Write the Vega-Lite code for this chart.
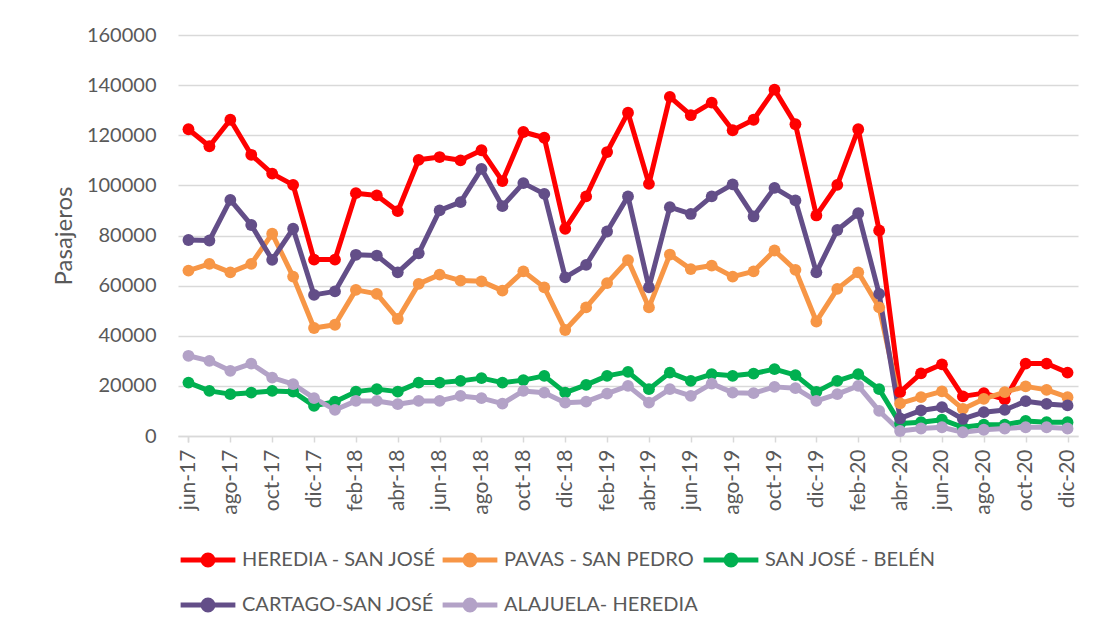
{
  "$schema": "https://vega.github.io/schema/vega-lite/v6.json",
  "width": 900,
  "height": 401,
  "autosize": {"type": "none"},
  "padding": {"left": 178, "top": 35, "right": 16, "bottom": 195},
  "background": "white",
  "config": {
    "view": {"stroke": null},
    "font": "Lato",
    "axis": {"labelFont": "Lato", "titleFont": "Lato", "labelColor": "#595959", "titleColor": "#595959"},
    "legend": {"labelFont": "Lato"}
  },
  "data": {"values": [
    {"mes":"jun-17","ruta":"HEREDIA - SAN JOSÉ","pasajeros":122400},
    {"mes":"jul-17","ruta":"HEREDIA - SAN JOSÉ","pasajeros":115600},
    {"mes":"ago-17","ruta":"HEREDIA - SAN JOSÉ","pasajeros":126200},
    {"mes":"sep-17","ruta":"HEREDIA - SAN JOSÉ","pasajeros":112200},
    {"mes":"oct-17","ruta":"HEREDIA - SAN JOSÉ","pasajeros":104700},
    {"mes":"nov-17","ruta":"HEREDIA - SAN JOSÉ","pasajeros":100200},
    {"mes":"dic-17","ruta":"HEREDIA - SAN JOSÉ","pasajeros":70400},
    {"mes":"ene-18","ruta":"HEREDIA - SAN JOSÉ","pasajeros":70400},
    {"mes":"feb-18","ruta":"HEREDIA - SAN JOSÉ","pasajeros":96900},
    {"mes":"mar-18","ruta":"HEREDIA - SAN JOSÉ","pasajeros":96000},
    {"mes":"abr-18","ruta":"HEREDIA - SAN JOSÉ","pasajeros":89700},
    {"mes":"may-18","ruta":"HEREDIA - SAN JOSÉ","pasajeros":110200},
    {"mes":"jun-18","ruta":"HEREDIA - SAN JOSÉ","pasajeros":111300},
    {"mes":"jul-18","ruta":"HEREDIA - SAN JOSÉ","pasajeros":110000},
    {"mes":"ago-18","ruta":"HEREDIA - SAN JOSÉ","pasajeros":114000},
    {"mes":"sep-18","ruta":"HEREDIA - SAN JOSÉ","pasajeros":101700},
    {"mes":"oct-18","ruta":"HEREDIA - SAN JOSÉ","pasajeros":121300},
    {"mes":"nov-18","ruta":"HEREDIA - SAN JOSÉ","pasajeros":119000},
    {"mes":"dic-18","ruta":"HEREDIA - SAN JOSÉ","pasajeros":82700},
    {"mes":"ene-19","ruta":"HEREDIA - SAN JOSÉ","pasajeros":95600},
    {"mes":"feb-19","ruta":"HEREDIA - SAN JOSÉ","pasajeros":113300},
    {"mes":"mar-19","ruta":"HEREDIA - SAN JOSÉ","pasajeros":129000},
    {"mes":"abr-19","ruta":"HEREDIA - SAN JOSÉ","pasajeros":100600},
    {"mes":"may-19","ruta":"HEREDIA - SAN JOSÉ","pasajeros":135300},
    {"mes":"jun-19","ruta":"HEREDIA - SAN JOSÉ","pasajeros":128000},
    {"mes":"jul-19","ruta":"HEREDIA - SAN JOSÉ","pasajeros":133000},
    {"mes":"ago-19","ruta":"HEREDIA - SAN JOSÉ","pasajeros":122000},
    {"mes":"sep-19","ruta":"HEREDIA - SAN JOSÉ","pasajeros":126200},
    {"mes":"oct-19","ruta":"HEREDIA - SAN JOSÉ","pasajeros":138200},
    {"mes":"nov-19","ruta":"HEREDIA - SAN JOSÉ","pasajeros":124400},
    {"mes":"dic-19","ruta":"HEREDIA - SAN JOSÉ","pasajeros":88000},
    {"mes":"ene-20","ruta":"HEREDIA - SAN JOSÉ","pasajeros":100200},
    {"mes":"feb-20","ruta":"HEREDIA - SAN JOSÉ","pasajeros":122400},
    {"mes":"mar-20","ruta":"HEREDIA - SAN JOSÉ","pasajeros":82000},
    {"mes":"abr-20","ruta":"HEREDIA - SAN JOSÉ","pasajeros":17500},
    {"mes":"may-20","ruta":"HEREDIA - SAN JOSÉ","pasajeros":25000},
    {"mes":"jun-20","ruta":"HEREDIA - SAN JOSÉ","pasajeros":28600},
    {"mes":"jul-20","ruta":"HEREDIA - SAN JOSÉ","pasajeros":15800},
    {"mes":"ago-20","ruta":"HEREDIA - SAN JOSÉ","pasajeros":17100},
    {"mes":"sep-20","ruta":"HEREDIA - SAN JOSÉ","pasajeros":14600},
    {"mes":"oct-20","ruta":"HEREDIA - SAN JOSÉ","pasajeros":28900},
    {"mes":"nov-20","ruta":"HEREDIA - SAN JOSÉ","pasajeros":28900},
    {"mes":"dic-20","ruta":"HEREDIA - SAN JOSÉ","pasajeros":25300},
    {"mes":"jun-17","ruta":"PAVAS - SAN PEDRO","pasajeros":66000},
    {"mes":"jul-17","ruta":"PAVAS - SAN PEDRO","pasajeros":68700},
    {"mes":"ago-17","ruta":"PAVAS - SAN PEDRO","pasajeros":65300},
    {"mes":"sep-17","ruta":"PAVAS - SAN PEDRO","pasajeros":68700},
    {"mes":"oct-17","ruta":"PAVAS - SAN PEDRO","pasajeros":80700},
    {"mes":"nov-17","ruta":"PAVAS - SAN PEDRO","pasajeros":63600},
    {"mes":"dic-17","ruta":"PAVAS - SAN PEDRO","pasajeros":43100},
    {"mes":"ene-18","ruta":"PAVAS - SAN PEDRO","pasajeros":44400},
    {"mes":"feb-18","ruta":"PAVAS - SAN PEDRO","pasajeros":58300},
    {"mes":"mar-18","ruta":"PAVAS - SAN PEDRO","pasajeros":56700},
    {"mes":"abr-18","ruta":"PAVAS - SAN PEDRO","pasajeros":46700},
    {"mes":"may-18","ruta":"PAVAS - SAN PEDRO","pasajeros":60700},
    {"mes":"jun-18","ruta":"PAVAS - SAN PEDRO","pasajeros":64400},
    {"mes":"jul-18","ruta":"PAVAS - SAN PEDRO","pasajeros":62000},
    {"mes":"ago-18","ruta":"PAVAS - SAN PEDRO","pasajeros":61700},
    {"mes":"sep-18","ruta":"PAVAS - SAN PEDRO","pasajeros":58000},
    {"mes":"oct-18","ruta":"PAVAS - SAN PEDRO","pasajeros":65700},
    {"mes":"nov-18","ruta":"PAVAS - SAN PEDRO","pasajeros":59300},
    {"mes":"dic-18","ruta":"PAVAS - SAN PEDRO","pasajeros":42300},
    {"mes":"ene-19","ruta":"PAVAS - SAN PEDRO","pasajeros":51300},
    {"mes":"feb-19","ruta":"PAVAS - SAN PEDRO","pasajeros":61000},
    {"mes":"mar-19","ruta":"PAVAS - SAN PEDRO","pasajeros":70200},
    {"mes":"abr-19","ruta":"PAVAS - SAN PEDRO","pasajeros":51300},
    {"mes":"may-19","ruta":"PAVAS - SAN PEDRO","pasajeros":72400},
    {"mes":"jun-19","ruta":"PAVAS - SAN PEDRO","pasajeros":66600},
    {"mes":"jul-19","ruta":"PAVAS - SAN PEDRO","pasajeros":68000},
    {"mes":"ago-19","ruta":"PAVAS - SAN PEDRO","pasajeros":63600},
    {"mes":"sep-19","ruta":"PAVAS - SAN PEDRO","pasajeros":65700},
    {"mes":"oct-19","ruta":"PAVAS - SAN PEDRO","pasajeros":74000},
    {"mes":"nov-19","ruta":"PAVAS - SAN PEDRO","pasajeros":66300},
    {"mes":"dic-19","ruta":"PAVAS - SAN PEDRO","pasajeros":45700},
    {"mes":"ene-20","ruta":"PAVAS - SAN PEDRO","pasajeros":58700},
    {"mes":"feb-20","ruta":"PAVAS - SAN PEDRO","pasajeros":65300},
    {"mes":"mar-20","ruta":"PAVAS - SAN PEDRO","pasajeros":51300},
    {"mes":"abr-20","ruta":"PAVAS - SAN PEDRO","pasajeros":13000},
    {"mes":"may-20","ruta":"PAVAS - SAN PEDRO","pasajeros":15500},
    {"mes":"jun-20","ruta":"PAVAS - SAN PEDRO","pasajeros":17800},
    {"mes":"jul-20","ruta":"PAVAS - SAN PEDRO","pasajeros":10800},
    {"mes":"ago-20","ruta":"PAVAS - SAN PEDRO","pasajeros":14800},
    {"mes":"sep-20","ruta":"PAVAS - SAN PEDRO","pasajeros":17500},
    {"mes":"oct-20","ruta":"PAVAS - SAN PEDRO","pasajeros":19800},
    {"mes":"nov-20","ruta":"PAVAS - SAN PEDRO","pasajeros":18400},
    {"mes":"dic-20","ruta":"PAVAS - SAN PEDRO","pasajeros":15500},
    {"mes":"jun-17","ruta":"SAN JOSÉ - BELÉN","pasajeros":21300},
    {"mes":"jul-17","ruta":"SAN JOSÉ - BELÉN","pasajeros":18000},
    {"mes":"ago-17","ruta":"SAN JOSÉ - BELÉN","pasajeros":16700},
    {"mes":"sep-17","ruta":"SAN JOSÉ - BELÉN","pasajeros":17300},
    {"mes":"oct-17","ruta":"SAN JOSÉ - BELÉN","pasajeros":18000},
    {"mes":"nov-17","ruta":"SAN JOSÉ - BELÉN","pasajeros":17700},
    {"mes":"dic-17","ruta":"SAN JOSÉ - BELÉN","pasajeros":12000},
    {"mes":"ene-18","ruta":"SAN JOSÉ - BELÉN","pasajeros":13700},
    {"mes":"feb-18","ruta":"SAN JOSÉ - BELÉN","pasajeros":17700},
    {"mes":"mar-18","ruta":"SAN JOSÉ - BELÉN","pasajeros":18700},
    {"mes":"abr-18","ruta":"SAN JOSÉ - BELÉN","pasajeros":17700},
    {"mes":"may-18","ruta":"SAN JOSÉ - BELÉN","pasajeros":21300},
    {"mes":"jun-18","ruta":"SAN JOSÉ - BELÉN","pasajeros":21300},
    {"mes":"jul-18","ruta":"SAN JOSÉ - BELÉN","pasajeros":22000},
    {"mes":"ago-18","ruta":"SAN JOSÉ - BELÉN","pasajeros":23100},
    {"mes":"sep-18","ruta":"SAN JOSÉ - BELÉN","pasajeros":21300},
    {"mes":"oct-18","ruta":"SAN JOSÉ - BELÉN","pasajeros":22300},
    {"mes":"nov-18","ruta":"SAN JOSÉ - BELÉN","pasajeros":24000},
    {"mes":"dic-18","ruta":"SAN JOSÉ - BELÉN","pasajeros":17300},
    {"mes":"ene-19","ruta":"SAN JOSÉ - BELÉN","pasajeros":20400},
    {"mes":"feb-19","ruta":"SAN JOSÉ - BELÉN","pasajeros":24000},
    {"mes":"mar-19","ruta":"SAN JOSÉ - BELÉN","pasajeros":25600},
    {"mes":"abr-19","ruta":"SAN JOSÉ - BELÉN","pasajeros":18700},
    {"mes":"may-19","ruta":"SAN JOSÉ - BELÉN","pasajeros":25300},
    {"mes":"jun-19","ruta":"SAN JOSÉ - BELÉN","pasajeros":22000},
    {"mes":"jul-19","ruta":"SAN JOSÉ - BELÉN","pasajeros":24700},
    {"mes":"ago-19","ruta":"SAN JOSÉ - BELÉN","pasajeros":24000},
    {"mes":"sep-19","ruta":"SAN JOSÉ - BELÉN","pasajeros":24900},
    {"mes":"oct-19","ruta":"SAN JOSÉ - BELÉN","pasajeros":26700},
    {"mes":"nov-19","ruta":"SAN JOSÉ - BELÉN","pasajeros":24300},
    {"mes":"dic-19","ruta":"SAN JOSÉ - BELÉN","pasajeros":17600},
    {"mes":"ene-20","ruta":"SAN JOSÉ - BELÉN","pasajeros":22000},
    {"mes":"feb-20","ruta":"SAN JOSÉ - BELÉN","pasajeros":24700},
    {"mes":"mar-20","ruta":"SAN JOSÉ - BELÉN","pasajeros":18700},
    {"mes":"abr-20","ruta":"SAN JOSÉ - BELÉN","pasajeros":5000},
    {"mes":"may-20","ruta":"SAN JOSÉ - BELÉN","pasajeros":5500},
    {"mes":"jun-20","ruta":"SAN JOSÉ - BELÉN","pasajeros":6500},
    {"mes":"jul-20","ruta":"SAN JOSÉ - BELÉN","pasajeros":3500},
    {"mes":"ago-20","ruta":"SAN JOSÉ - BELÉN","pasajeros":4500},
    {"mes":"sep-20","ruta":"SAN JOSÉ - BELÉN","pasajeros":4500},
    {"mes":"oct-20","ruta":"SAN JOSÉ - BELÉN","pasajeros":6000},
    {"mes":"nov-20","ruta":"SAN JOSÉ - BELÉN","pasajeros":5500},
    {"mes":"dic-20","ruta":"SAN JOSÉ - BELÉN","pasajeros":5500},
    {"mes":"jun-17","ruta":"CARTAGO-SAN JOSÉ","pasajeros":78200},
    {"mes":"jul-17","ruta":"CARTAGO-SAN JOSÉ","pasajeros":78000},
    {"mes":"ago-17","ruta":"CARTAGO-SAN JOSÉ","pasajeros":94200},
    {"mes":"sep-17","ruta":"CARTAGO-SAN JOSÉ","pasajeros":84200},
    {"mes":"oct-17","ruta":"CARTAGO-SAN JOSÉ","pasajeros":70300},
    {"mes":"nov-17","ruta":"CARTAGO-SAN JOSÉ","pasajeros":82700},
    {"mes":"dic-17","ruta":"CARTAGO-SAN JOSÉ","pasajeros":56300},
    {"mes":"ene-18","ruta":"CARTAGO-SAN JOSÉ","pasajeros":57700},
    {"mes":"feb-18","ruta":"CARTAGO-SAN JOSÉ","pasajeros":72300},
    {"mes":"mar-18","ruta":"CARTAGO-SAN JOSÉ","pasajeros":72000},
    {"mes":"abr-18","ruta":"CARTAGO-SAN JOSÉ","pasajeros":65300},
    {"mes":"may-18","ruta":"CARTAGO-SAN JOSÉ","pasajeros":72900},
    {"mes":"jun-18","ruta":"CARTAGO-SAN JOSÉ","pasajeros":90000},
    {"mes":"jul-18","ruta":"CARTAGO-SAN JOSÉ","pasajeros":93300},
    {"mes":"ago-18","ruta":"CARTAGO-SAN JOSÉ","pasajeros":106600},
    {"mes":"sep-18","ruta":"CARTAGO-SAN JOSÉ","pasajeros":91700},
    {"mes":"oct-18","ruta":"CARTAGO-SAN JOSÉ","pasajeros":100900},
    {"mes":"nov-18","ruta":"CARTAGO-SAN JOSÉ","pasajeros":96600},
    {"mes":"dic-18","ruta":"CARTAGO-SAN JOSÉ","pasajeros":63300},
    {"mes":"ene-19","ruta":"CARTAGO-SAN JOSÉ","pasajeros":68300},
    {"mes":"feb-19","ruta":"CARTAGO-SAN JOSÉ","pasajeros":81600},
    {"mes":"mar-19","ruta":"CARTAGO-SAN JOSÉ","pasajeros":95600},
    {"mes":"abr-19","ruta":"CARTAGO-SAN JOSÉ","pasajeros":59300},
    {"mes":"may-19","ruta":"CARTAGO-SAN JOSÉ","pasajeros":91300},
    {"mes":"jun-19","ruta":"CARTAGO-SAN JOSÉ","pasajeros":88600},
    {"mes":"jul-19","ruta":"CARTAGO-SAN JOSÉ","pasajeros":95600},
    {"mes":"ago-19","ruta":"CARTAGO-SAN JOSÉ","pasajeros":100400},
    {"mes":"sep-19","ruta":"CARTAGO-SAN JOSÉ","pasajeros":87600},
    {"mes":"oct-19","ruta":"CARTAGO-SAN JOSÉ","pasajeros":99000},
    {"mes":"nov-19","ruta":"CARTAGO-SAN JOSÉ","pasajeros":94000},
    {"mes":"dic-19","ruta":"CARTAGO-SAN JOSÉ","pasajeros":65300},
    {"mes":"ene-20","ruta":"CARTAGO-SAN JOSÉ","pasajeros":82200},
    {"mes":"feb-20","ruta":"CARTAGO-SAN JOSÉ","pasajeros":88900},
    {"mes":"mar-20","ruta":"CARTAGO-SAN JOSÉ","pasajeros":56700},
    {"mes":"abr-20","ruta":"CARTAGO-SAN JOSÉ","pasajeros":7000},
    {"mes":"may-20","ruta":"CARTAGO-SAN JOSÉ","pasajeros":10200},
    {"mes":"jun-20","ruta":"CARTAGO-SAN JOSÉ","pasajeros":11500},
    {"mes":"jul-20","ruta":"CARTAGO-SAN JOSÉ","pasajeros":6800},
    {"mes":"ago-20","ruta":"CARTAGO-SAN JOSÉ","pasajeros":9500},
    {"mes":"sep-20","ruta":"CARTAGO-SAN JOSÉ","pasajeros":10400},
    {"mes":"oct-20","ruta":"CARTAGO-SAN JOSÉ","pasajeros":13900},
    {"mes":"nov-20","ruta":"CARTAGO-SAN JOSÉ","pasajeros":12800},
    {"mes":"dic-20","ruta":"CARTAGO-SAN JOSÉ","pasajeros":12200},
    {"mes":"jun-17","ruta":"ALAJUELA- HEREDIA","pasajeros":32000},
    {"mes":"jul-17","ruta":"ALAJUELA- HEREDIA","pasajeros":30000},
    {"mes":"ago-17","ruta":"ALAJUELA- HEREDIA","pasajeros":26000},
    {"mes":"sep-17","ruta":"ALAJUELA- HEREDIA","pasajeros":28900},
    {"mes":"oct-17","ruta":"ALAJUELA- HEREDIA","pasajeros":23300},
    {"mes":"nov-17","ruta":"ALAJUELA- HEREDIA","pasajeros":20700},
    {"mes":"dic-17","ruta":"ALAJUELA- HEREDIA","pasajeros":15100},
    {"mes":"ene-18","ruta":"ALAJUELA- HEREDIA","pasajeros":10400},
    {"mes":"feb-18","ruta":"ALAJUELA- HEREDIA","pasajeros":14000},
    {"mes":"mar-18","ruta":"ALAJUELA- HEREDIA","pasajeros":14000},
    {"mes":"abr-18","ruta":"ALAJUELA- HEREDIA","pasajeros":12700},
    {"mes":"may-18","ruta":"ALAJUELA- HEREDIA","pasajeros":14000},
    {"mes":"jun-18","ruta":"ALAJUELA- HEREDIA","pasajeros":14000},
    {"mes":"jul-18","ruta":"ALAJUELA- HEREDIA","pasajeros":16000},
    {"mes":"ago-18","ruta":"ALAJUELA- HEREDIA","pasajeros":15100},
    {"mes":"sep-18","ruta":"ALAJUELA- HEREDIA","pasajeros":12900},
    {"mes":"oct-18","ruta":"ALAJUELA- HEREDIA","pasajeros":18000},
    {"mes":"nov-18","ruta":"ALAJUELA- HEREDIA","pasajeros":17300},
    {"mes":"dic-18","ruta":"ALAJUELA- HEREDIA","pasajeros":13300},
    {"mes":"ene-19","ruta":"ALAJUELA- HEREDIA","pasajeros":13700},
    {"mes":"feb-19","ruta":"ALAJUELA- HEREDIA","pasajeros":16900},
    {"mes":"mar-19","ruta":"ALAJUELA- HEREDIA","pasajeros":20000},
    {"mes":"abr-19","ruta":"ALAJUELA- HEREDIA","pasajeros":13300},
    {"mes":"may-19","ruta":"ALAJUELA- HEREDIA","pasajeros":18700},
    {"mes":"jun-19","ruta":"ALAJUELA- HEREDIA","pasajeros":16000},
    {"mes":"jul-19","ruta":"ALAJUELA- HEREDIA","pasajeros":20900},
    {"mes":"ago-19","ruta":"ALAJUELA- HEREDIA","pasajeros":17300},
    {"mes":"sep-19","ruta":"ALAJUELA- HEREDIA","pasajeros":17100},
    {"mes":"oct-19","ruta":"ALAJUELA- HEREDIA","pasajeros":19600},
    {"mes":"nov-19","ruta":"ALAJUELA- HEREDIA","pasajeros":19100},
    {"mes":"dic-19","ruta":"ALAJUELA- HEREDIA","pasajeros":14000},
    {"mes":"ene-20","ruta":"ALAJUELA- HEREDIA","pasajeros":16700},
    {"mes":"feb-20","ruta":"ALAJUELA- HEREDIA","pasajeros":20000},
    {"mes":"mar-20","ruta":"ALAJUELA- HEREDIA","pasajeros":10000},
    {"mes":"abr-20","ruta":"ALAJUELA- HEREDIA","pasajeros":2000},
    {"mes":"may-20","ruta":"ALAJUELA- HEREDIA","pasajeros":3000},
    {"mes":"jun-20","ruta":"ALAJUELA- HEREDIA","pasajeros":3500},
    {"mes":"jul-20","ruta":"ALAJUELA- HEREDIA","pasajeros":1500},
    {"mes":"ago-20","ruta":"ALAJUELA- HEREDIA","pasajeros":2500},
    {"mes":"sep-20","ruta":"ALAJUELA- HEREDIA","pasajeros":3000},
    {"mes":"oct-20","ruta":"ALAJUELA- HEREDIA","pasajeros":3500},
    {"mes":"nov-20","ruta":"ALAJUELA- HEREDIA","pasajeros":3500},
    {"mes":"dic-20","ruta":"ALAJUELA- HEREDIA","pasajeros":3000}
  ]},
  "encoding": {
    "x": {
      "field": "mes", "type": "ordinal", "sort": null,
      "scale": {"type": "point", "padding": 0.5},
      "axis": {
        "title": null,
        "values": ["jun-17","ago-17","oct-17","dic-17","feb-18","abr-18","jun-18","ago-18","oct-18","dic-18","feb-19","abr-19","jun-19","ago-19","oct-19","dic-19","feb-20","abr-20","jun-20","ago-20","oct-20","dic-20"],
        "labelAngle": -90, "labelAlign": "right", "labelBaseline": "middle",
        "labelFontSize": 21, "labelPadding": 7,
        "domainColor": "#d9d9d9", "domainWidth": 1.5,
        "tickColor": "#d9d9d9", "tickSize": 6, "tickWidth": 1.5, "tickBand": "extent",
        "grid": false, "labelOverlap": false
      }
    },
    "y": {
      "field": "pasajeros", "type": "quantitative",
      "scale": {"domain": [0, 160000], "nice": false},
      "axis": {
        "title": "Pasajeros", "titleFontSize": 24, "titleFontWeight": "normal", "titlePadding": 10,
        "values": [0,20000,40000,60000,80000,100000,120000,140000,160000],
        "format": "d", "labelFontSize": 20, "labelPadding": 22,
        "domain": false, "ticks": false,
        "grid": true, "gridColor": "#d9d9d9", "gridWidth": 1.5
      }
    },
    "color": {
      "field": "ruta", "type": "nominal",
      "scale": {
        "domain": ["HEREDIA - SAN JOSÉ","PAVAS - SAN PEDRO","SAN JOSÉ - BELÉN","CARTAGO-SAN JOSÉ","ALAJUELA- HEREDIA"],
        "range": ["#ff0000","#f79646","#00b050","#634e88","#b3a2c7"]
      },
      "legend": {
        "title": null, "orient": "bottom", "direction": "horizontal", "columns": 3,
        "offset": 15,
        "symbolType": "M-1,0L1,0M0.18,0A0.18,0.18,0,1,1,-0.18,0A0.18,0.18,0,1,1,0.18,0Z",
        "symbolSize": 3000, "symbolStrokeWidth": 5, "symbolOpacity": 1,
        "labelFontSize": 20, "labelColor": "#595959", "labelLimit": 400, "labelOffset": 4,
        "rowPadding": -8, "columnPadding": -5,
        "encode": {"symbols": {"update": {"fill": {"scale": "color", "field": "value"}, "stroke": {"scale": "color", "field": "value"}}}}
      }
    }
  },
  "layer": [
    {"mark": {"type": "line", "strokeWidth": 5, "strokeJoin": "round", "strokeCap": "round"}},
    {"mark": {"type": "circle", "size": 140, "opacity": 1}}
  ]
}
